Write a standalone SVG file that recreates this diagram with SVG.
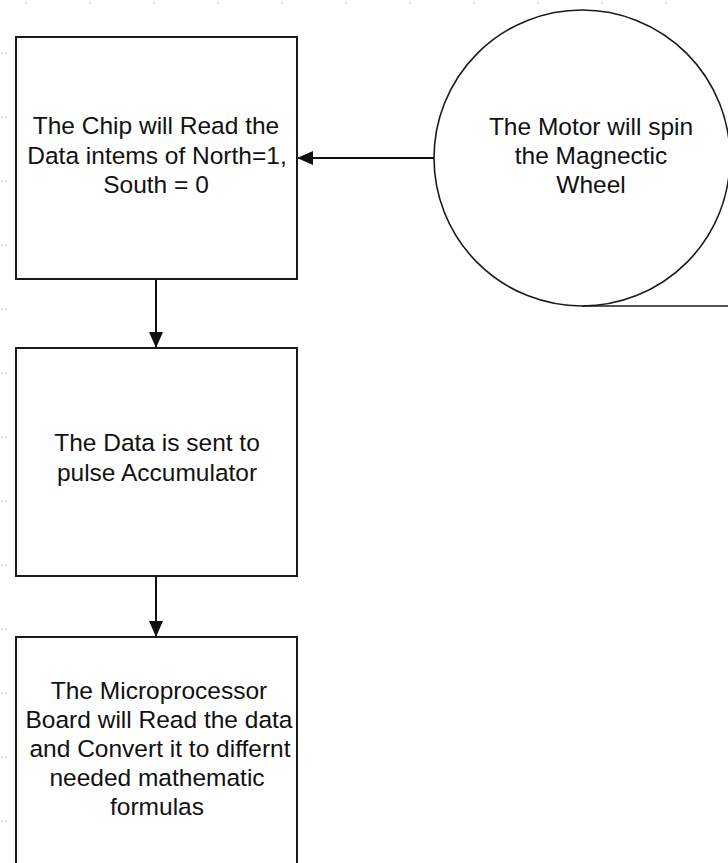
<svg xmlns="http://www.w3.org/2000/svg" width="728" height="863" viewBox="0 0 728 863">
<style>
.node{fill:#fff;stroke:#1a1a1a;stroke-width:2}
.wheel{fill:#fff;stroke:#1a1a1a;stroke-width:1.6}
.lbl{font-family:"Liberation Sans",Arial,sans-serif;font-size:24.5px;fill:#111;text-anchor:middle}
.conn{stroke:#111;stroke-width:2;fill:none;marker-end:url(#arr)}
.dot{fill:#a9bff0}
</style>
<defs>
<marker id="arr" markerUnits="userSpaceOnUse" markerWidth="16" markerHeight="14" refX="15" refY="7" orient="auto">
<path d="M0,0 L16,7 L0,14 z" fill="#111"/>
</marker>
</defs>
<rect width="728" height="863" fill="#fff"/>
<g id="grid">
<rect class="dot" x="25.5" y="2" width="1.5" height="1.5"/>
<rect class="dot" x="89.5" y="2" width="1.5" height="1.5"/>
<rect class="dot" x="153.5" y="2" width="1.5" height="1.5"/>
<rect class="dot" x="217.5" y="2" width="1.5" height="1.5"/>
<rect class="dot" x="281.5" y="2" width="1.5" height="1.5"/>
<rect class="dot" x="345.5" y="2" width="1.5" height="1.5"/>
<rect class="dot" x="409.5" y="2" width="1.5" height="1.5"/>
<rect class="dot" x="473.5" y="2" width="1.5" height="1.5"/>
<rect class="dot" x="537.5" y="2" width="1.5" height="1.5"/>
<rect class="dot" x="601.5" y="2" width="1.5" height="1.5"/>
<rect class="dot" x="665.5" y="2" width="1.5" height="1.5"/>
<g id="leftdots">
<rect class="dot" x="1.5" y="52.5" width="1.5" height="1.5"/><rect class="dot" x="5.5" y="52.5" width="1.5" height="1.5"/>
<rect class="dot" x="1.5" y="116.5" width="1.5" height="1.5"/><rect class="dot" x="5.5" y="116.5" width="1.5" height="1.5"/>
<rect class="dot" x="1.5" y="180.5" width="1.5" height="1.5"/><rect class="dot" x="5.5" y="180.5" width="1.5" height="1.5"/>
<rect class="dot" x="1.5" y="244.5" width="1.5" height="1.5"/><rect class="dot" x="5.5" y="244.5" width="1.5" height="1.5"/>
<rect class="dot" x="1.5" y="308.5" width="1.5" height="1.5"/><rect class="dot" x="5.5" y="308.5" width="1.5" height="1.5"/>
<rect class="dot" x="1.5" y="372.5" width="1.5" height="1.5"/><rect class="dot" x="5.5" y="372.5" width="1.5" height="1.5"/>
<rect class="dot" x="1.5" y="436.5" width="1.5" height="1.5"/><rect class="dot" x="5.5" y="436.5" width="1.5" height="1.5"/>
<rect class="dot" x="1.5" y="500.5" width="1.5" height="1.5"/><rect class="dot" x="5.5" y="500.5" width="1.5" height="1.5"/>
<rect class="dot" x="1.5" y="564.5" width="1.5" height="1.5"/><rect class="dot" x="5.5" y="564.5" width="1.5" height="1.5"/>
<rect class="dot" x="1.5" y="628.5" width="1.5" height="1.5"/><rect class="dot" x="5.5" y="628.5" width="1.5" height="1.5"/>
<rect class="dot" x="1.5" y="692.5" width="1.5" height="1.5"/><rect class="dot" x="5.5" y="692.5" width="1.5" height="1.5"/>
<rect class="dot" x="1.5" y="756.5" width="1.5" height="1.5"/><rect class="dot" x="5.5" y="756.5" width="1.5" height="1.5"/>
<rect class="dot" x="1.5" y="820.5" width="1.5" height="1.5"/><rect class="dot" x="5.5" y="820.5" width="1.5" height="1.5"/>
</g>
</g>
<g id="motor">
<circle class="wheel" cx="582" cy="158" r="148"/>
<line x1="582" y1="306" x2="728" y2="306" stroke="#1a1a1a" stroke-width="1.6"/>
<text class="lbl" x="591" y="135">The Motor will spin</text>
<text class="lbl" x="591" y="164">the Magnectic</text>
<text class="lbl" x="591" y="193">Wheel</text>
</g>
<g id="chip">
<rect class="node" x="16" y="37" width="281" height="242"/>
<text class="lbl" x="156" y="134">The Chip will Read the</text>
<text class="lbl" x="157" y="163.5">Data intems of North=1,</text>
<text class="lbl" x="156" y="193">South = 0</text>
</g>
<g id="accumulator">
<rect class="node" x="16" y="348" width="281" height="228"/>
<text class="lbl" x="157" y="451">The Data is sent to</text>
<text class="lbl" x="157" y="480.5">pulse Accumulator</text>
</g>
<g id="microprocessor">
<rect class="node" x="16" y="637" width="281" height="240"/>
<text class="lbl" x="159" y="699">The Microprocessor</text>
<text class="lbl" x="159" y="728">Board will Read the data</text>
<text class="lbl" x="160" y="757">and Convert it to differnt</text>
<text class="lbl" x="157" y="786">needed mathematic</text>
<text class="lbl" x="157" y="815">formulas</text>
</g>
<g id="connectors">
<line class="conn" x1="434" y1="158" x2="298" y2="158"/>
<line class="conn" x1="156" y1="280" x2="156" y2="347"/>
<line class="conn" x1="156" y1="577" x2="156" y2="636"/>
</g>
</svg>
